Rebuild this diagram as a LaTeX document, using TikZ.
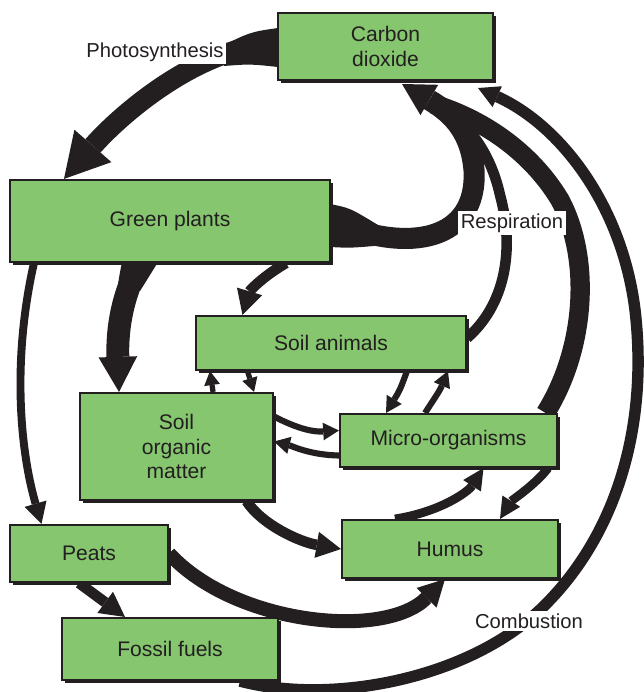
\documentclass[tikz,border=0pt]{standalone}
\usepackage{fontspec}
\setmainfont{Liberation Sans}
\usetikzlibrary{arrows.meta,shadows,backgrounds}
\definecolor{boxgreen}{HTML}{85C66F}
\definecolor{inkdark}{HTML}{231F20}
\tikzset{
  pool/.style={draw=inkdark,line width=1.2pt,fill=boxgreen,align=center,font=\fontsize{12}{14.2}\selectfont,text=inkdark,inner sep=2pt,drop shadow={shadow xshift=1.8pt,shadow yshift=-1.8pt,fill=inkdark,opacity=1}},
  band/.style={draw=inkdark,line width=#1},
  flow/.style n args={3}{draw=inkdark,line width=#1,-{Triangle[width=#2,length=#3,line width=0pt]}},
  tag/.style={fill=white,inner sep=1.5pt,font=\fontsize{11.5}{14}\selectfont,text=inkdark},
}

\begin{document}
\begin{tikzpicture}[x=0.02cm,y=-0.02cm]
  \useasboundingbox (0,0) rectangle (644,692);
  % pools
  \node[pool,minimum width=4.3cm,minimum height=1.34cm] (co2) at (385.5,46.5) {Carbon\\dioxide};
  \node[pool,minimum width=6.4cm,minimum height=1.64cm] (plants) at (170,221) {Green plants};
  \node[pool,minimum width=5.4cm,minimum height=1.08cm] (animals) at (331,343) {Soil animals};
  \node[pool,minimum width=3.86cm,minimum height=2.14cm] (som) at (176.5,446.5) {Soil\\organic\\matter};
  \node[pool,minimum width=4.34cm,minimum height=1.06cm] (micro) at (448.5,440.5) {Micro-organisms};
  \node[pool,minimum width=3.16cm,minimum height=1.14cm] (peats) at (89,553.5) {Peats};
  \node[pool,minimum width=4.32cm,minimum height=1.16cm] (humus) at (450,549) {Humus};
  \node[pool,minimum width=4.32cm,minimum height=1.24cm] (fossil) at (170,649) {Fossil fuels};
  \coordinate (resp) at (402,84);
  \coordinate (respin) at (433,104);
  \coordinate (burn) at (478,88);
  \begin{scope}[on background layer]
    % uptake and respiration
    \draw[flow={11.5pt}{28pt}{25pt}] ([yshift=0.05cm]co2.west) .. controls (200,45) and (120,115) .. ([xshift=1.1cm]plants.north west);
    \fill[inkdark] (278,28) .. controls (250,32) .. (216,49) -- (224,66) .. controls (250,64) .. (278,67) -- cycle;
    \draw[flow={12pt}{20pt}{18pt}] (plants.east) .. controls (410,255) and (478,240) .. (474,170) .. controls (471,135) and (455,115) .. (resp);
    \fill[inkdark] (330,204) .. controls (350,208) .. (378,225) -- (374,246) .. controls (350,248) .. (330,247) -- cycle;
    \draw[band=6pt] ([yshift=0.1cm]animals.east) .. controls (505,305) and (515,250) .. (500,195) .. controls (490,150) and (465,118) .. (respin);
    \draw[band=11pt] ([xshift=-0.25cm]micro.north east) .. controls (585,350) and (592,260) .. (560,200) .. controls (530,150) and (480,118) .. (respin);
    \draw[flow={6.5pt}{13pt}{12pt}] ([xshift=1.4cm]fossil.south) .. controls (330,705) and (470,680) .. (545,605) .. controls (620,530) and (648,420) .. (635,310) .. controls (622,205) and (560,125) .. (burn);
    % litter and burial
    \draw[flow={6pt}{15pt}{14pt}] ([xshift=-0.9cm]plants.south east) .. controls (265,275) and (250,290) .. ([xshift=0.95cm]animals.north west);
    \draw[flow={13pt}{22pt}{20pt}] ([xshift=-0.6cm]plants.south) .. controls (122,295) and (117,330) .. ([xshift=-1.15cm]som.north);
    \fill[inkdark] (122,262) .. controls (120,272) .. (118,284) -- (140,291) .. controls (150,275) .. (158,262) -- cycle;
    \draw[flow={4.5pt}{13pt}{12pt}] ([xshift=0.5cm]plants.south west) .. controls (12,360) and (20,450) .. ([xshift=0.65cm]peats.north west);
    \draw[flow={6pt}{15pt}{14pt}] ([xshift=-0.55cm]som.south east) .. controls (262,525) and (300,542) .. (humus.west);
    \draw[flow={5pt}{12pt}{12pt}] ([xshift=-1.1cm]humus.north) .. controls (440,512) and (468,492) .. ([xshift=0.7cm]micro.south);
    \draw[flow={5pt}{12pt}{12pt}] ([xshift=-0.2cm]micro.south east) .. controls (535,485) and (512,500) .. ([xshift=1cm]humus.north);
    \draw[flow={8pt}{16pt}{15pt}] (peats.east) .. controls (235,625) and (385,640) .. ([xshift=-0.1cm]humus.south);
    \draw[flow={6pt}{15pt}{14pt}] ([xshift=-0.2cm]peats.south) -- ([xshift=-0.9cm]fossil.north);
    % exchanges in the soil
    \draw[flow={3pt}{9pt}{8pt}] ([xshift=-1.22cm]som.north east) -- ([xshift=0.3cm]animals.south west);
    \draw[flow={3pt}{9pt}{8pt}] ([xshift=1.05cm]animals.south west) -- ([xshift=-0.4cm]som.north east);
    \draw[flow={3.5pt}{10pt}{9pt}] ([xshift=1.52cm]animals.south) .. controls (400,390) .. ([xshift=-1.25cm]micro.north);
    \draw[flow={3.5pt}{10pt}{9pt}] ([xshift=-0.47cm]micro.north) .. controls (440,390) .. ([xshift=2.34cm]animals.south);
    \draw[flow={3.5pt}{10pt}{9pt}] ([yshift=0.6cm]som.east) .. controls (300,430) and (315,432) .. ([yshift=0.2cm]micro.west);
    \draw[flow={3.5pt}{10pt}{9pt}] ([yshift=-0.3cm]micro.west) .. controls (310,455) and (292,446) .. ([yshift=0.1cm]som.east);
  \end{scope}
  \node[tag] (photo) at (155,52) {Photosynthesis};
  \node[tag] (resplab) at (512,223) {Respiration};
  \node[tag] (comblab) at (529,621) {Combustion};
\end{tikzpicture}
\end{document}
